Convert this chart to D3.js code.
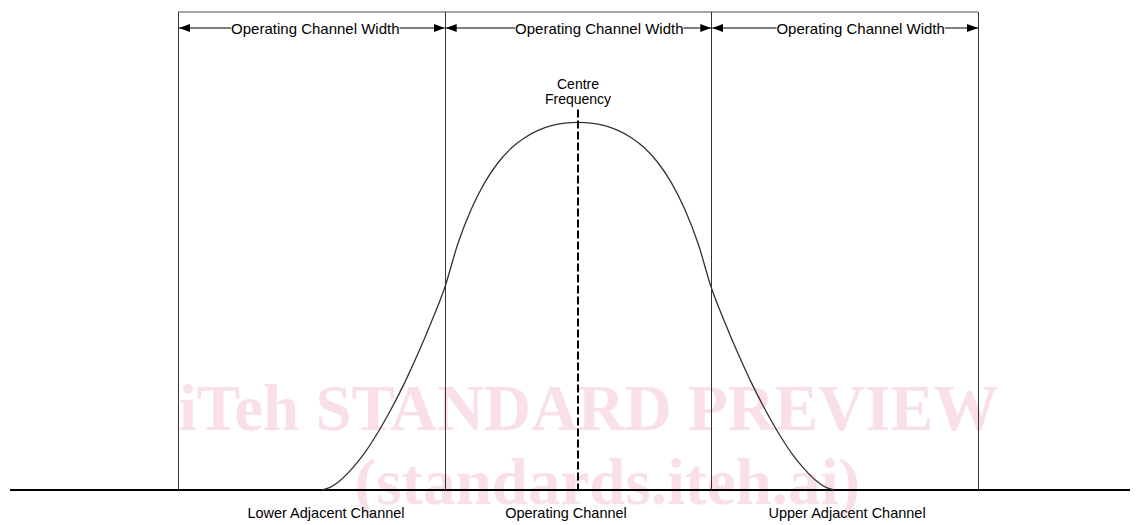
<!DOCTYPE html>
<html>
<head>
<meta charset="utf-8">
<script src="https://cdn.jsdelivr.net/npm/d3@7"></script>
<style>
  html, body { margin: 0; padding: 0; background: #fff; }
  svg { display: block; }
  text { font-family: "Liberation Sans", Arial, sans-serif; fill: #000; }
</style>
</head>
<body>
<svg id="chart" width="1139" height="525"></svg>
<script>
// ---- data (frequency offsets in channel widths, level relative to peak) ----
const channelNames = ["Lower Adjacent Channel", "Operating Channel", "Upper Adjacent Channel"];
const channelEdges = [-1.5, -0.5, 0.5, 1.5];
const widthLabel = "Operating Channel Width";
const widthLabelPos = [-0.985, 0.08, 1.06];
const channelLabelPos = [-0.945, -0.045, 1.009];
const centreLabel = ["Centre", "Frequency"];
const centreOffset = 0;
const spectrumOffset = [-0.96, -0.93, -0.90, -0.85, -0.80, -0.75, -0.70, -0.65, -0.60, -0.55, -0.50,
                        -0.45, -0.40, -0.35, -0.30, -0.25, -0.20, -0.15, -0.10, -0.05, 0,
                        0.05, 0.10, 0.15, 0.20, 0.25, 0.30, 0.35, 0.40, 0.45, 0.50,
                        0.55, 0.60, 0.65, 0.70, 0.75, 0.80, 0.85, 0.90, 0.93, 0.96];
const spectrumLevel  = [0, 0.007, 0.021, 0.056, 0.101, 0.157, 0.221, 0.292, 0.371, 0.457, 0.550,
                        0.671, 0.764, 0.836, 0.890, 0.930, 0.958, 0.978, 0.991, 0.998, 1.0,
                        0.998, 0.991, 0.978, 0.958, 0.930, 0.890, 0.836, 0.764, 0.671, 0.550,
                        0.457, 0.371, 0.292, 0.221, 0.157, 0.101, 0.056, 0.021, 0.007, 0];
const watermark = ["iTeh STANDARD PREVIEW", "(standards.iteh.ai)"];
const watermarkPos = [0.04, 0.11];

// ---- layout ----
const svg = d3.select("#chart");
const x = d3.scaleLinear().domain([-1.5, 1.5]).range([178, 978]);
const y = d3.scaleLinear().domain([0, 1.3]).range([490, 12]);

// watermark (behind everything)
svg.append("g").selectAll("text").data(watermark).join("text")
  .attr("x", (d, i) => x(watermarkPos[i]))
  .attr("y", (d, i) => 430 + i * 74)
  .attr("text-anchor", "middle")
  .attr("font-size", 65)
  .attr("font-weight", "bold")
  .style("font-family", "'Liberation Serif', 'Times New Roman', serif")
  .style("fill", "#f9e0e8")
  .text(d => d);

// box top edge
svg.append("line")
  .attr("x1", x(channelEdges[0])).attr("x2", x(channelEdges[3]))
  .attr("y1", y(1.3)).attr("y2", y(1.3))
  .attr("stroke", "#888").attr("stroke-width", 1.5);

// channel edges (vertical lines)
svg.selectAll("line.edge").data(channelEdges).join("line")
  .attr("class", "edge")
  .attr("x1", d => Math.round(x(d)) + 0.5).attr("x2", d => Math.round(x(d)) + 0.5)
  .attr("y1", y(1.3)).attr("y2", y(0))
  .attr("stroke", "#333").attr("stroke-width", 1);

// baseline
svg.append("line")
  .attr("x1", 10).attr("x2", 1130)
  .attr("y1", y(0)).attr("y2", y(0))
  .attr("stroke", "#000").attr("stroke-width", 2);

// spectrum curve
const pts = spectrumOffset.map((o, i) => [o, spectrumLevel[i]]);
svg.append("path")
  .datum(pts)
  .attr("d", d3.line().x(d => x(d[0])).y(d => y(d[1])).curve(d3.curveMonotoneX))
  .attr("fill", "none").attr("stroke", "#333").attr("stroke-width", 1.3);

// centre frequency dashed line
svg.append("line")
  .attr("x1", x(centreOffset)).attr("x2", x(centreOffset))
  .attr("y1", y(1.035)).attr("y2", y(0))
  .attr("stroke", "#000").attr("stroke-width", 2)
  .attr("stroke-dasharray", "8,3");

svg.selectAll("text.centre").data(centreLabel).join("text")
  .attr("class", "centre")
  .attr("x", x(centreOffset))
  .attr("y", (d, i) => 89 + i * 15)
  .attr("text-anchor", "middle")
  .attr("font-size", 14)
  .text(d => d);

// arrow markers
const defs = svg.append("defs");
defs.append("marker")
  .attr("id", "arr").attr("viewBox", "0 0 11 8")
  .attr("refX", 11).attr("refY", 4)
  .attr("markerWidth", 11).attr("markerHeight", 8)
  .attr("markerUnits", "userSpaceOnUse")
  .attr("orient", "auto-start-reverse")
  .append("path").attr("d", "M0,0 L11,4 L0,8 Z").attr("fill", "#000");

const arrowY = 28;
for (let i = 0; i < 3; i++) {
  svg.append("line")
    .attr("x1", x(channelEdges[i]) + 1).attr("x2", x(channelEdges[i + 1]))
    .attr("y1", arrowY).attr("y2", arrowY)
    .attr("stroke", "#000").attr("stroke-width", 1)
    .attr("marker-start", "url(#arr)").attr("marker-end", "url(#arr)");
  const g = svg.append("g");
  const t = g.append("text")
    .attr("x", x(widthLabelPos[i])).attr("y", arrowY + 5.5)
    .attr("text-anchor", "middle").attr("font-size", 15)
    .text(widthLabel);
  const bb = t.node().getBBox();
  g.insert("rect", "text")
    .attr("x", bb.x).attr("y", arrowY - 3).attr("width", bb.width).attr("height", 6)
    .attr("fill", "#fff");
}

// channel names
svg.selectAll("text.chan").data(channelNames).join("text")
  .attr("class", "chan")
  .attr("x", (d, i) => x(channelLabelPos[i]))
  .attr("y", 518)
  .attr("text-anchor", "middle")
  .attr("font-size", 14.5)
  .text(d => d);
</script>
</body>
</html>
